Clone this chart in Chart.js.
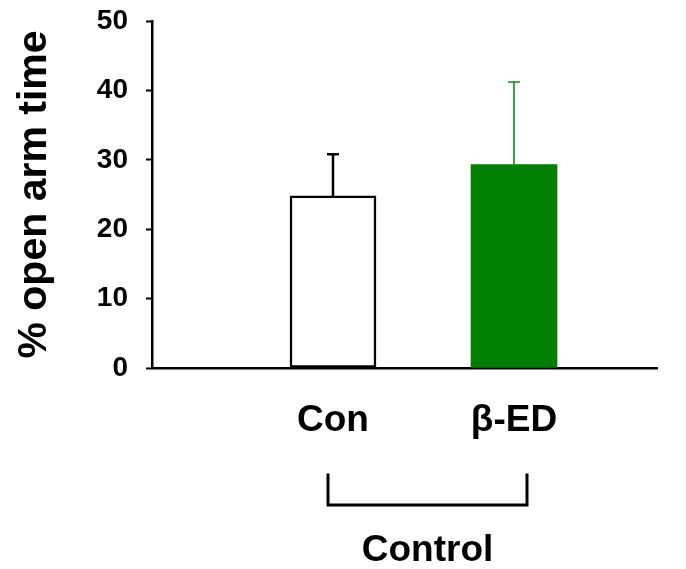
<!DOCTYPE html>
<html>
<head>
<meta charset="utf-8">
<script src="https://cdn.jsdelivr.net/npm/chart.js@4.4.1/dist/chart.umd.min.js"></script>
<style>
  html, body { margin: 0; padding: 0; background: #ffffff; }
  #wrap { width: 686px; height: 569px; }
</style>
</head>
<body>
<div id="wrap"><canvas id="c" width="686" height="569"></canvas></div>
<script>
// ---- data ----
const categories = ['Con', 'β-ED'];
const means = [24.8, 29.3];
const sem = [6.0, 11.9];
const groupLabel = 'Control';
const yTicks = [0, 10, 20, 30, 40, 50];
const yTitle = '% open arm time';

const FONT = "'Liberation Sans', Arial, sans-serif";
const fillColors = ['#ffffff', '#008000'];
const edgeColors = ['#000000', '#008000'];
const errColors = ['#000000', '#109010'];
const errWidths = [2.5, 1.6];

const points = categories.map((c, i) => ({ x: i + 1, y: means[i] }));

const errorBars = {
  id: 'errorBars',
  afterDatasetsDraw(chart) {
    const { ctx, scales: { x, y } } = chart;
    ctx.save();
    categories.forEach((c, i) => {
      const px = x.getPixelForValue(i + 1);
      const top = y.getPixelForValue(means[i] + sem[i]);
      const base = y.getPixelForValue(means[i]);
      ctx.strokeStyle = errColors[i];
      ctx.lineWidth = errWidths[i];
      ctx.beginPath();
      ctx.moveTo(px, base);
      ctx.lineTo(px, top);
      ctx.moveTo(px - 6, top);
      ctx.lineTo(px + 6, top);
      ctx.stroke();
    });
    ctx.restore();
  }
};

const bracket = {
  id: 'bracket',
  afterDraw(chart) {
    const { ctx, scales: { x } } = chart;
    const l = x.getPixelForValue(1) - 5;
    const r = x.getPixelForValue(categories.length) + 13;
    const top = 475, bot = 505;
    ctx.save();
    ctx.strokeStyle = '#000';
    ctx.lineWidth = 3;
    ctx.lineCap = 'square';
    ctx.beginPath();
    ctx.moveTo(l, top);
    ctx.lineTo(l, bot);
    ctx.lineTo(r, bot);
    ctx.lineTo(r, top);
    ctx.stroke();
    ctx.fillStyle = '#000';
    ctx.font = "bold 37px " + FONT;
    ctx.textAlign = 'center';
    ctx.textBaseline = 'alphabetic';
    ctx.fillText(groupLabel, (l + r) / 2, 561);
    ctx.restore();
  }
};

new Chart(document.getElementById('c'), {
  type: 'bar',
  data: {
    datasets: [{
      data: points,
      backgroundColor: fillColors,
      borderColor: edgeColors,
      borderWidth: [2.5, 0],
      barThickness: 86,
      borderSkipped: false
    }]
  },
  options: {
    responsive: false,
    animation: false,
    events: [],
    layout: { padding: { left: 0, top: 21, right: 29, bottom: 0 } },
    plugins: { legend: { display: false }, tooltip: { enabled: false } },
    scales: {
      x: {
        type: 'linear',
        offset: false,
        min: 0,
        max: 2.79,
        afterBuildTicks(scale) { scale.ticks = categories.map((c, i) => ({ value: i + 1 })); },
        afterFit(scale) { scale.height = 201; scale.paddingLeft = 0; scale.paddingRight = 0; },
        grid: { display: true, drawOnChartArea: false, drawTicks: false },
        border: { display: true, color: '#000', width: 2.5 },
        ticks: {
          color: '#000',
          padding: 34,
          autoSkip: false,
          maxRotation: 0,
          font: { family: FONT, size: 37, weight: 'bold', lineHeight: 1 },
          callback: (v) => categories[v - 1] ?? ''
        }
      },
      y: {
        min: 0,
        max: 50,
        afterBuildTicks(scale) { scale.ticks = yTicks.map(v => ({ value: v })); },
        afterFit(scale) { scale.width = 152; scale.paddingTop = 0; scale.paddingBottom = 0; },
        grid: { display: true, drawOnChartArea: false, drawTicks: true, tickLength: 6, color: '#000', tickWidth: 2 },
        border: { display: true, color: '#000', width: 2.5 },
        ticks: {
          color: '#000',
          padding: 18,
          font: { family: FONT, size: 28, weight: 'bold', lineHeight: 1 }
        },
        title: {
          display: true,
          text: yTitle,
          color: '#000',
          padding: { top: 14, bottom: 0 },
          font: { family: FONT, size: 41, weight: 'bold', lineHeight: 1 }
        }
      }
    }
  },
  plugins: [errorBars, bracket]
});
</script>
</body>
</html>
